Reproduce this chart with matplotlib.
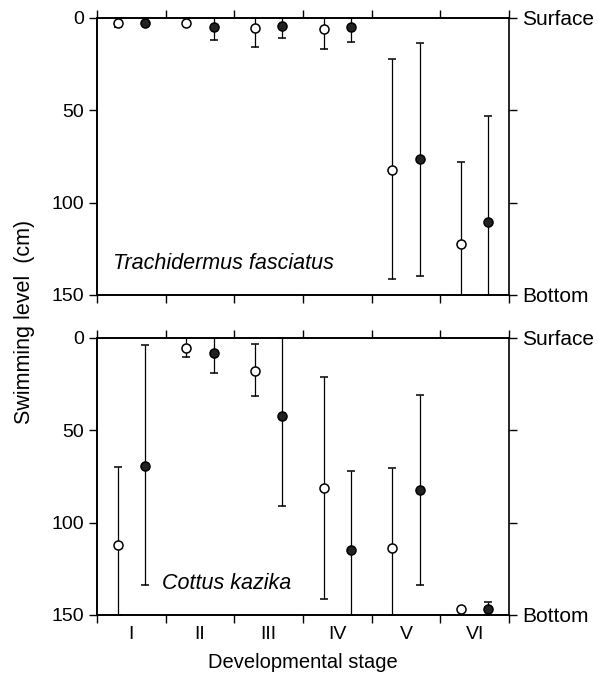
import numpy as np
import matplotlib
matplotlib.use("Agg")
import matplotlib.pyplot as plt

plt.rcParams["font.family"] = ["Liberation Sans", "DejaVu Sans"]

stages = ["I", "II", "III", "IV", "V", "VI"]

# Trachidermus fasciatus: open = first group, filled = second group
tf_open_mean = [3, 3, 5.6, 6.1, 82.3, 122.5]
tf_open_low = [0, 0, 0, 0, 22.4, 77.8]       # upper end of bar (towards surface)
tf_open_high = [5, 3, 15.9, 17, 141.5, 150]  # lower end of bar (towards bottom)
tf_fill_mean = [3, 4.7, 4.2, 4.7, 76.3, 110.6]
tf_fill_low = [0, 0, 0, 0, 13.7, 52.9]
tf_fill_high = [3, 12, 10.9, 12.8, 139.7, 150]

# Cottus kazika
ck_open_mean = [112, 5.2, 17.7, 81, 113.9, 146.9]
ck_open_low = [69.7, 0, 3.2, 20.9, 70.6, 146.9]
ck_open_high = [150, 10.5, 31.4, 141.5, 150, 146.9]
ck_fill_mean = [69.1, 8, 42.2, 114.8, 82.3, 146.9]
ck_fill_low = [3.8, 0, 0, 71.8, 30.9, 143.1]
ck_fill_high = [134, 19.1, 90.8, 150, 133.7, 150]

fig = plt.figure(figsize=(6.07, 6.77), dpi=100)
ax1 = fig.add_axes([0.1598, 0.5643, 0.6787, 0.4092])
ax2 = fig.add_axes([0.1598, 0.0916, 0.6787, 0.4092])

x = np.arange(len(stages))
fs = 14

def draw(ax, om, ol, oh, fm, fl, fh, name, name_xy):
    om, ol, oh = np.array(om), np.array(ol), np.array(oh)
    fm, fl, fh = np.array(fm), np.array(fl), np.array(fh)
    ax.errorbar(x + 0.3, om, yerr=[om - ol, oh - om], fmt="o", mfc="white", mec="black",
                ms=6.5, mew=1.1, ecolor="black", elinewidth=0.9, capsize=3, capthick=1.1, zorder=3,
                clip_on=False)
    ax.errorbar(x + 0.7, fm, yerr=[fm - fl, fh - fm], fmt="o", mfc="#222222", mec="black",
                ms=6.5, mew=1.1, ecolor="black", elinewidth=0.9, capsize=3, capthick=1.1, zorder=3,
                clip_on=False)
    ax.set_xlim(0, 6)
    ax.set_ylim(150, 0)
    ax.set_yticks([0, 50, 100, 150])
    ax.set_yticklabels(["0", "50", "100", "150"], fontsize=fs)
    ax.set_xticks(np.arange(0, 7))
    ax.set_xticks(x + 0.5, minor=True)
    ax.tick_params(axis="x", which="major", direction="out", length=6, width=1,
                   top=True, bottom=True, labelbottom=False)
    ax.tick_params(axis="x", which="minor", length=0)
    ax.tick_params(axis="y", direction="out", length=6, width=1, left=True, right=False)
    for s in ax.spines.values():
        s.set_linewidth(1.2)
    ax.spines["right"].set_visible(False)
    # right axis with Surface / Bottom labels
    axr = ax.twinx()
    axr.set_ylim(150, 0)
    axr.set_yticks([0, 50, 100, 150])
    axr.set_yticklabels(["Surface", "", "", "Bottom"], fontsize=15)
    axr.tick_params(axis="y", direction="out", length=6, width=1)
    for s in axr.spines.values():
        s.set_linewidth(1.2)
    ax.text(name_xy[0], name_xy[1], name, style="italic", fontsize=15.5, ha="left", va="center")

draw(ax1, tf_open_mean, tf_open_low, tf_open_high, tf_fill_mean, tf_fill_low, tf_fill_high,
     "Trachidermus fasciatus", (0.24, 133))
draw(ax2, ck_open_mean, ck_open_low, ck_open_high, ck_fill_mean, ck_fill_low, ck_fill_high,
     "Cottus kazika", (0.95, 133))

ax2.set_xticklabels([])
ax2.tick_params(axis="x", which="minor", labelbottom=True, labelsize=fs, pad=8)
ax2.set_xticklabels(stages, minor=True)
ax2.set_xlabel("Developmental stage", fontsize=14.5, labelpad=7)

fig.text(0.04, 0.525, "Swimming level  (cm)", rotation=90, fontsize=15.5, ha="center", va="center")

fig.savefig("out.png", dpi=100)
